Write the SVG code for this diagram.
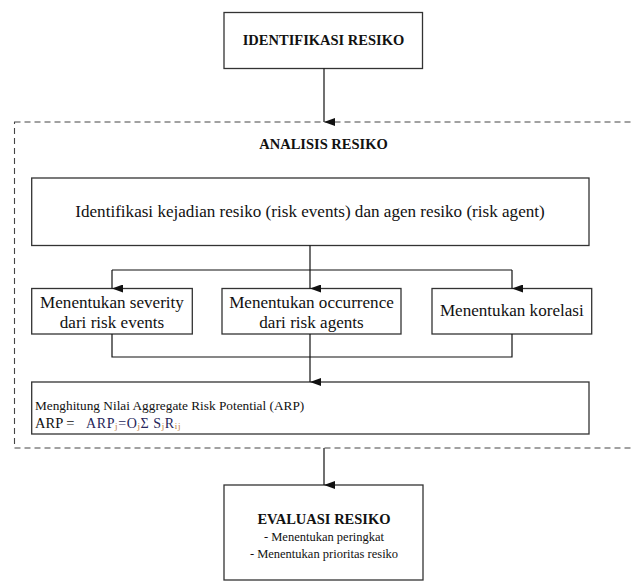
<svg xmlns="http://www.w3.org/2000/svg" width="631" height="585" viewBox="0 0 631 585">
  <defs>
    <marker id="arrow" markerUnits="userSpaceOnUse" markerWidth="8" markerHeight="11" refX="4" refY="11" orient="auto-start-reverse" viewBox="0 0 8 11">
      <path d="M0,0 L8,0 L4,11 Z" fill="#111"/>
    </marker>
    <style>
      .box { fill: #fff; stroke: #333; stroke-width: 1.3; }
      .frame { fill: none; stroke: #444; stroke-width: 1.1; stroke-dasharray: 6 4; }
      .wire { fill: none; stroke: #111; stroke-width: 1.2; }
      .arr { fill: none; stroke: #111; stroke-width: 1.2; marker-end: url(#arrow); }
      .title { font-family: "Liberation Serif", "Times New Roman", serif; font-weight: bold; font-size: 14.5px; fill: #111; text-anchor: middle; }
      .txt { font-family: "Liberation Serif", "Times New Roman", serif; font-size: 17.1px; fill: #111; text-anchor: middle; }
      .small { font-family: "Liberation Serif", "Times New Roman", serif; font-size: 13.3px; fill: #111; }
      .eval { font-family: "Liberation Serif", "Times New Roman", serif; font-size: 12.5px; fill: #111; text-anchor: middle; }
      .eq { font-family: "Liberation Serif", "Times New Roman", serif; font-size: 14px; letter-spacing: 0.6px; fill: #26265a; }
      .sub { font-size: 9px; fill: #c07a3a; }
    </style>
  </defs>

  <rect width="631" height="585" fill="#fff"/>

  <!-- analysis stage frame -->
  <g id="analisis">
    <rect class="frame" x="14.5" y="122" width="640" height="326"/>
    <text class="title" x="323.5" y="149">ANALISIS RESIKO</text>
  </g>

  <g id="identifikasi">
    <rect class="box" x="224" y="12.5" width="198.5" height="56"/>
    <text class="title" x="323.5" y="44.5">IDENTIFIKASI RESIKO</text>
  </g>

  <g id="kejadian">
    <rect class="box" x="31.7" y="178" width="557.3" height="67.5"/>
    <text class="txt" x="310" y="217">Identifikasi kejadian resiko (risk events) dan agen resiko (risk agent)</text>
  </g>

  <g id="severity">
    <rect class="box" x="31.7" y="288.5" width="160.6" height="45.5"/>
    <text class="txt" x="112" y="307.5">Menentukan severity</text>
    <text class="txt" x="112" y="327.5">dari risk events</text>
  </g>

  <g id="occurrence">
    <rect class="box" x="222" y="288.5" width="179" height="45.5"/>
    <text class="txt" x="311.5" y="307.5">Menentukan occurrence</text>
    <text class="txt" x="311.5" y="327.5">dari risk agents</text>
  </g>

  <g id="korelasi">
    <rect class="box" x="432" y="288.5" width="159.7" height="45.5"/>
    <text class="txt" x="511.8" y="316">Menentukan korelasi</text>
  </g>

  <g id="arp">
    <rect class="box" x="31.7" y="382" width="557.3" height="52"/>
    <text class="small" x="35" y="410">Menghitung Nilai Aggregate Risk Potential (ARP)</text>
    <text class="small" x="35" y="427.5" style="font-size:14.5px">ARP =</text>
    <text class="eq" x="86" y="427.5">ARP<tspan class="sub" dy="1.5">j</tspan><tspan dy="-1.5">=O</tspan><tspan class="sub" dy="1.5">j</tspan><tspan dy="-1.5">Σ S</tspan><tspan class="sub" dy="1.5">j</tspan><tspan dy="-1.5">R</tspan><tspan class="sub" dy="1.5">ij</tspan></text>
  </g>

  <g id="evaluasi">
    <rect class="box" x="224" y="485" width="199" height="95"/>
    <text class="title" x="324" y="524">EVALUASI RESIKO</text>
    <text class="eval" x="324" y="541">- Menentukan peringkat</text>
    <text class="eval" x="324" y="558">- Menentukan prioritas resiko</text>
  </g>

  <g id="connectors">
    <line class="arr" x1="324" y1="68.5" x2="324" y2="122"/>
    <polyline class="wire" points="310,245.5 310,270"/>
    <polyline class="wire" points="112,270 512,270"/>
    <line class="arr" x1="112" y1="270" x2="112" y2="288.5"/>
    <line class="arr" x1="310" y1="270" x2="310" y2="288.5"/>
    <line class="arr" x1="512" y1="270" x2="512" y2="288.5"/>
    <polyline class="wire" points="112,334 112,357 512,357 512,334"/>
    <line class="arr" x1="310" y1="334" x2="310" y2="382"/>
    <line class="arr" x1="324" y1="448" x2="324" y2="485"/>
  </g>
</svg>
